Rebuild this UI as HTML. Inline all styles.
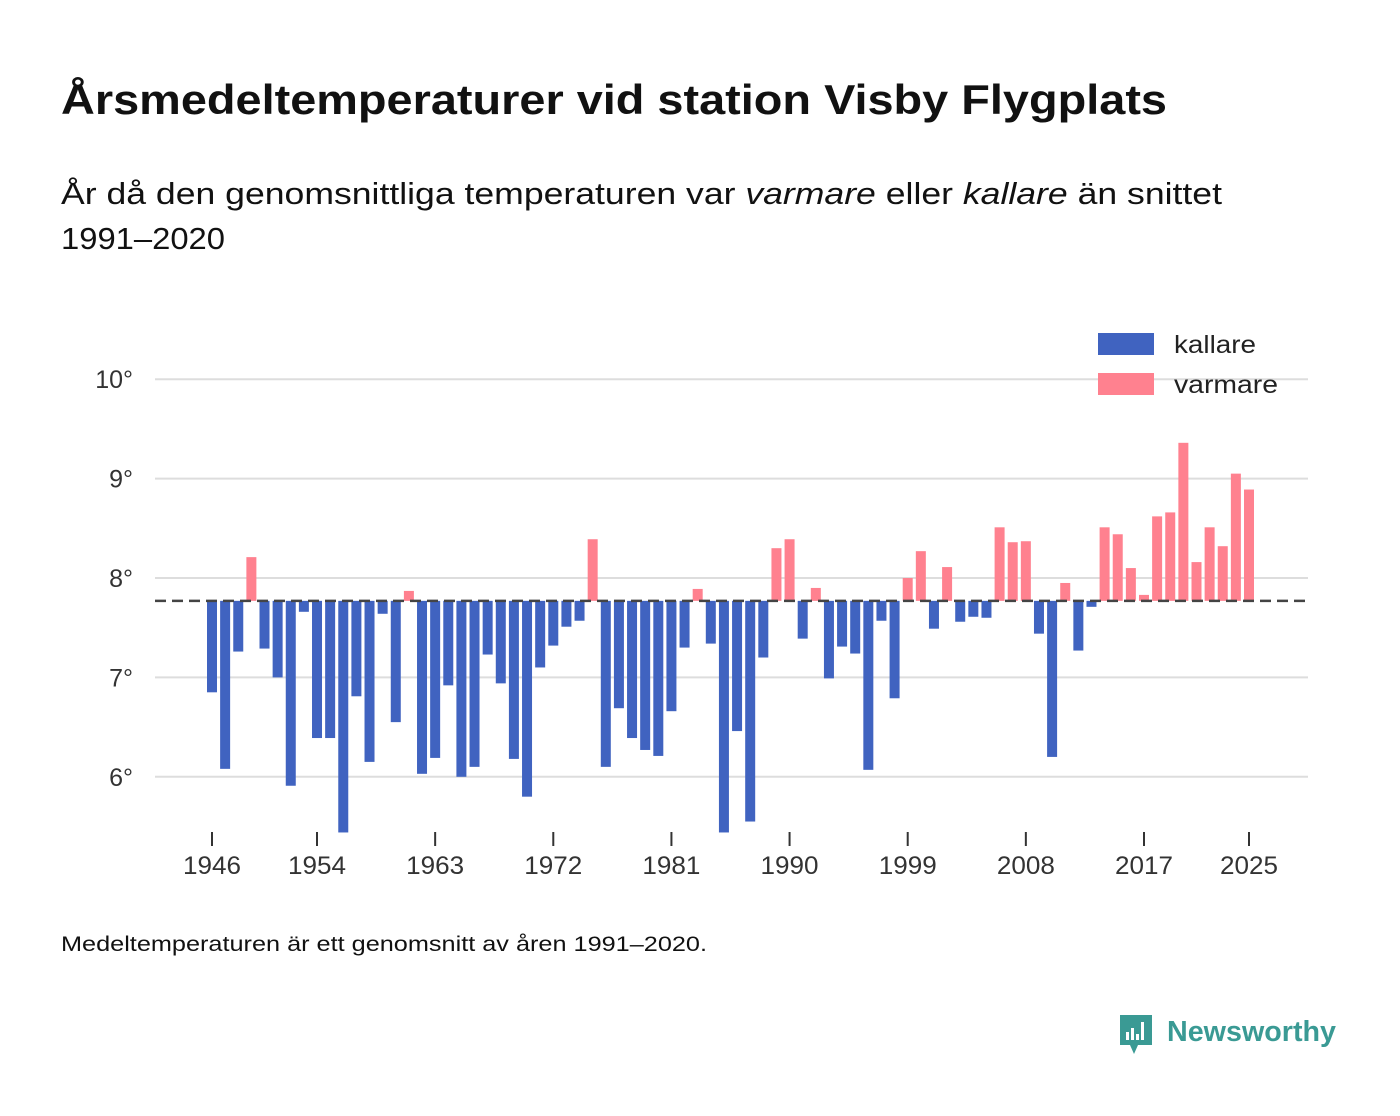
<!DOCTYPE html>
<html><head><meta charset="utf-8"><style>
body{margin:0;background:#fff;font-family:"Liberation Sans",sans-serif;}
#wrap{position:relative;width:1400px;height:1116px;overflow:hidden;}
</style></head><body>
<div id="wrap">
<svg id="chart" width="1400" height="1116">
<text x="61" y="114" font-size="42" font-weight="bold" fill="#111" textLength="1106" lengthAdjust="spacingAndGlyphs">Årsmedeltemperaturer vid station Visby Flygplats</text>
<text x="61" y="204" font-size="31" fill="#111" textLength="1161" lengthAdjust="spacingAndGlyphs">År då den genomsnittliga temperaturen var <tspan font-style="italic">varmare</tspan> eller <tspan font-style="italic">kallare</tspan> än snittet</text>
<text x="61" y="249" font-size="31" fill="#111" textLength="164" lengthAdjust="spacingAndGlyphs">1991–2020</text>
<g id="grid"></g><g id="bars"></g><g id="xaxis"></g>
<rect x="1098" y="333" width="56" height="22" fill="#4063c0"/>
<text x="1174" y="353" font-size="25" fill="#222" textLength="82" lengthAdjust="spacingAndGlyphs">kallare</text>
<rect x="1098" y="373" width="56" height="22" fill="#ff818f"/>
<text x="1174" y="393" font-size="25" fill="#222" textLength="104" lengthAdjust="spacingAndGlyphs">varmare</text>
<text x="61" y="951" font-size="21" fill="#111" textLength="646" lengthAdjust="spacingAndGlyphs">Medeltemperaturen är ett genomsnitt av åren 1991–2020.</text>
<g>
<path d="M1120 1015 h32 v30 h-14 l-4 9 l-4 -9 h-10 z" fill="#3a9a94"/>
<rect x="1126" y="1032" width="3" height="8" fill="#fff"/><rect x="1131" y="1028" width="3" height="12" fill="#fff"/><rect x="1136" y="1034" width="3" height="6" fill="#fff"/><rect x="1141" y="1022" width="3" height="18" fill="#fff"/>
<text x="1167" y="1041" font-size="29" font-weight="bold" fill="#3a9a94" textLength="169" lengthAdjust="spacingAndGlyphs">Newsworthy</text>
</g>
</svg>
</div>
<script>
const years = [];
for (let y = 1946; y <= 2025; y++) years.push(y);
const temps = [6.85,6.08,7.26,8.21,7.29,7.0,5.91,7.66,6.39,6.39,5.44,6.81,6.15,7.64,6.55,7.87,6.03,6.19,6.92,6.0,
6.1,7.23,6.94,6.18,5.8,7.1,7.32,7.51,7.57,8.39,6.1,6.69,6.39,6.27,6.21,6.66,7.30,7.89,7.34,5.44,
6.46,5.55,7.2,8.30,8.39,7.39,7.9,6.99,7.31,7.24,6.07,7.57,6.79,8.0,8.27,7.49,8.11,7.56,7.61,7.60,
8.51,8.36,8.37,7.44,6.2,7.95,7.27,7.71,8.51,8.44,8.1,7.83,8.62,8.66,9.36,8.16,8.51,8.32,9.05,8.89];
const baseline = 7.77;
const yTicks = [6,7,8,9,10];
const xTicks = [1946,1954,1963,1972,1981,1990,1999,2008,2017,2025];
const NS = "http://www.w3.org/2000/svg";
const yS = v => 578 - (v - 8) * 99.4;
const xS = yr => 212 + (yr - 1946) * (1249 - 212) / 79;
const grid = document.getElementById('grid'), bars = document.getElementById('bars'), xa = document.getElementById('xaxis');
function mk(tag, attrs, parent){const e=document.createElementNS(NS,tag);for(const k in attrs)e.setAttribute(k,attrs[k]);parent.appendChild(e);return e;}
yTicks.forEach(t=>{
  const l = mk('line',{x1:155,x2:1308,y1:yS(t),y2:yS(t),stroke:'#ddd','stroke-width':2},grid);
  
  
  const tx = mk('text',{x:133,y:yS(t)+9,'font-size':25,fill:'#333','text-anchor':'end'},grid);
  tx.textContent = t+'°';
  
  
});
years.forEach((yr,i)=>{
  const v = temps[i], top = Math.min(yS(v), yS(baseline)), h = Math.abs(yS(v)-yS(baseline));
  const r = mk('rect',{x:xS(yr)-5,y:top,width:10,height:Math.max(h,1),fill: v>=baseline?'#ff818f':'#4063c0'},bars);
  
  
});
const bl = mk('line',{x1:155,x2:1308,y1:yS(baseline),y2:yS(baseline),stroke:'#444','stroke-width':2.5,'stroke-dasharray':'11 6'},bars);


xTicks.forEach(yr=>{
  const tk = mk('line',{x1:xS(yr),x2:xS(yr),y1:832,y2:846,stroke:'#333','stroke-width':2},xa);
  
  
  const tx = mk('text',{x:xS(yr),y:874,'font-size':25,fill:'#333','text-anchor':'middle',textLength:58,lengthAdjust:'spacingAndGlyphs'},xa);
  tx.textContent = yr;
  
  
});
</script>
</body></html>
